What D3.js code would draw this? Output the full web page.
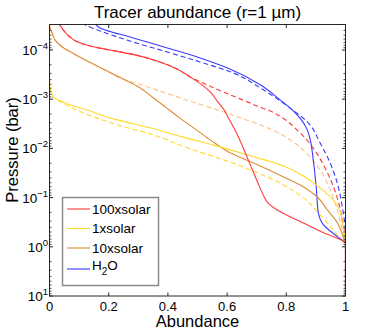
<!DOCTYPE html>
<html>
<head>
<meta charset="utf-8">
<script src="https://cdn.jsdelivr.net/npm/d3@7"></script>
<style>
  html, body { margin: 0; padding: 0; background: #fff; }
  svg { display: block; font-family: "Liberation Sans", Arial, Helvetica, sans-serif; }
</style>
</head>
<body>
<svg id="chart" width="382" height="333"></svg>
<script>
// ---------------- data ----------------
const seriesNames = ["100xsolar", "1xsolar", "10xsolar", "H2O"];
const xTickValues = [0, 0.2, 0.4, 0.6, 0.8, 1];
const xTickLabels = ["0", "0.2", "0.4", "0.6", "0.8", "1"];
const yTickExponents = [-4, -3, -2, -1, 0, 1];

// 100xsolar (red)
const solar100X = [0.029, 0.035, 0.049, 0.069, 0.096, 0.144, 0.204, 0.282, 0.373, 0.434, 0.475, 0.515, 0.546, 0.566, 0.590, 0.606, 0.630, 0.657, 0.684, 0.708, 0.725, 0.740, 0.768, 0.813, 0.870, 0.924, 1.0, 1.0];
const solar100P = [2.7e-5, 3.1e-5, 4.1e-5, 5.45e-5, 6.9e-5, 8.5e-5, 1.0e-4, 1.23e-4, 1.75e-4, 2.49e-4, 3.53e-4, 5.13e-4, 7.45e-4, 1.08e-3, 1.65e-3, 2.5e-3, 4.6e-3, 1.07e-2, 2.6e-2, 5.7e-2, 9.6e-2, 0.133, 0.176, 0.244, 0.355, 0.515, 0.86, 10];
const solar100DashX = [0.029, 0.035, 0.049, 0.069, 0.096, 0.144, 0.204, 0.282, 0.373, 0.434, 0.475, 0.526, 0.586, 0.644, 0.701, 0.752, 0.792, 0.829, 0.863, 0.897, 0.927, 0.954, 0.975, 0.989, 1.0, 1.0];
const solar100DashP = [2.7e-5, 3.1e-5, 4.1e-5, 5.45e-5, 6.9e-5, 8.5e-5, 1.0e-4, 1.23e-4, 1.75e-4, 2.49e-4, 3.53e-4, 4.9e-4, 7.1e-4, 9.85e-4, 1.37e-3, 1.81e-3, 2.5e-3, 3.82e-3, 6.1e-3, 1.11e-2, 2.25e-2, 5.0e-2, 0.116, 0.281, 0.86, 10];

// 1xsolar (yellow)
const solar1X = [0, 0, 0.002, 0.0125, 0.036, 0.06, 0.114, 0.229, 0.34, 0.452, 0.567, 0.678, 0.789, 0.867, 0.921, 0.958, 0.982, 0.992, 1.0, 1.0];
const solar1P = [2.9e-5, 3.7e-4, 5.9e-4, 9.0e-4, 1.08e-3, 1.25e-3, 1.57e-3, 2.63e-3, 3.82e-3, 5.9e-3, 9.0e-3, 1.41e-2, 2.25e-2, 3.95e-2, 6.9e-2, 0.11, 0.193, 0.408, 0.86, 10];
const solar1DashX = [0, 0, 0.002, 0.0125, 0.036, 0.114, 0.229, 0.34, 0.475, 0.586, 0.703, 0.789, 0.857, 0.914, 0.958, 0.992, 1.0, 1.0];
const solar1DashP = [2.9e-5, 3.7e-4, 5.9e-4, 9.0e-4, 1.13e-3, 1.9e-3, 3.32e-3, 5.06e-3, 1.02e-2, 1.7e-2, 3.13e-2, 5.47e-2, 0.1, 0.222, 0.448, 0.785, 0.86, 10];

// 10xsolar (orange)
const solar10X = [0, 0.002, 0.009, 0.019, 0.043, 0.077, 0.121, 0.188, 0.256, 0.3, 0.347, 0.391, 0.435, 0.482, 0.543, 0.61, 0.703, 0.789, 0.857, 0.904, 0.938, 0.972, 0.992, 1.0, 1.0];
const solar10P = [2.9e-5, 3.6e-5, 4.5e-5, 6.3e-5, 8.7e-5, 1.15e-4, 1.6e-4, 2.55e-4, 4.06e-4, 5.6e-4, 9.0e-4, 1.43e-3, 2.29e-3, 3.65e-3, 6.7e-3, 1.23e-2, 2.15e-2, 3.77e-2, 6.0e-2, 9.6e-2, 0.176, 0.323, 0.62, 0.86, 10];
const solar10DashX = [0, 0.002, 0.009, 0.019, 0.043, 0.077, 0.121, 0.188, 0.256, 0.29, 0.381, 0.482, 0.567, 0.654, 0.745, 0.813, 0.867, 0.914, 0.948, 0.972, 0.989, 1.0, 1.0];
const solar10DashP = [2.9e-5, 3.6e-5, 4.5e-5, 6.3e-5, 8.7e-5, 1.15e-4, 1.6e-4, 2.55e-4, 4.06e-4, 4.67e-4, 7.1e-4, 1.13e-3, 1.65e-3, 2.5e-3, 4.0e-3, 6.7e-3, 1.23e-2, 2.72e-2, 6.9e-2, 0.176, 0.448, 0.86, 10];

// H2O (blue)
const waterX = [0.155, 0.165, 0.283, 0.398, 0.509, 0.6, 0.712, 0.779, 0.82, 0.851, 0.871, 0.881, 0.891, 0.901, 0.908, 0.925, 0.972, 1.0, 1.0];
const waterP = [2.9e-5, 3.4e-5, 5.7e-5, 9.1e-5, 1.45e-4, 2.3e-4, 5.1e-4, 1.03e-3, 1.65e-3, 2.63e-3, 4.2e-3, 6.7e-3, 1.7e-2, 6.0e-2, 0.2, 0.355, 0.62, 0.86, 10];
const waterDashX = [0.11, 0.121, 0.171, 0.283, 0.398, 0.509, 0.621, 0.712, 0.779, 0.83, 0.871, 0.914, 0.948, 0.972, 0.989, 0.999, 1.0, 1.0];
const waterDashP = [2.8e-5, 3.1e-5, 4.1e-5, 6.9e-5, 1.1e-4, 1.75e-4, 2.93e-4, 5.9e-4, 1.08e-3, 1.81e-3, 2.89e-3, 7.7e-3, 1.96e-2, 5.0e-2, 0.153, 0.448, 0.86, 10];

// ---------------- layout ----------------
const plotL = 49.5, plotR = 345.5, plotT = 24.5, plotB = 296;
const svg = d3.select("#chart");

const x = d3.scaleLinear().domain([0, 1]).range([plotL, plotR]);
const y = d3.scaleLog().domain([Math.pow(10, -4.518), 10]).range([plotT, plotB]);

const zip = (xs, ps) => xs.map((v, i) => ({ a: v, p: ps[i] }));

const lineSpecs = [
  { data: zip(solar10DashX, solar10DashP), color: "#fdc28a", dash: "5,3" },
  { data: zip(solar1DashX, solar1DashP), color: "#ffd92a", dash: "5,3" },
  { data: zip(waterDashX, waterDashP), color: "#3a3aff", dash: "5,3" },
  { data: zip(solar100DashX, solar100DashP), color: "#ff3a3a", dash: "5,3" },
  { data: zip(waterX, waterP), color: "#3a3aff", dash: null },
  { data: zip(solar10X, solar10P), color: "#dd8c38", dash: null },
  { data: zip(solar1X, solar1P), color: "#ffd92a", dash: null },
  { data: zip(solar100X, solar100P), color: "#ff3a3a", dash: null }
];

svg.append("defs").append("clipPath").attr("id", "plotclip")
  .append("rect").attr("x", plotL).attr("y", plotT).attr("width", plotR - plotL).attr("height", plotB - plotT);

const lineGen = d3.line().x(d => x(d.a)).y(d => y(d.p)).curve(d3.curveMonotoneY);

const g = svg.append("g").attr("clip-path", "url(#plotclip)");
lineSpecs.forEach(s => {
  g.append("path").datum(s.data)
    .attr("d", lineGen)
    .attr("fill", "none")
    .attr("stroke", s.color)
    .attr("stroke-width", 1.1)
    .attr("stroke-dasharray", s.dash);
});

// ---------------- axes (MATLAB box, inward ticks) ----------------
const axisColor = "#262626";
const ax = svg.append("g");
ax.append("rect").attr("x", plotL).attr("y", plotT).attr("width", plotR - plotL).attr("height", plotB - plotT)
  .attr("fill", "none").attr("stroke", axisColor).attr("stroke-width", 1);

xTickValues.forEach((v, i) => {
  const px = x(v);
  ax.append("line").attr("x1", px).attr("x2", px).attr("y1", plotB).attr("y2", plotB - 3.5).attr("stroke", axisColor);
  ax.append("line").attr("x1", px).attr("x2", px).attr("y1", plotT).attr("y2", plotT + 3.5).attr("stroke", axisColor);
  ax.append("text").attr("x", px).attr("y", plotB + 14.5)
    .attr("text-anchor", "middle").attr("font-size", 13).attr("fill", "#000")
    .text(xTickLabels[i]);
});

yTickExponents.forEach(e => {
  const py = y(Math.pow(10, e));
  ax.append("line").attr("x1", plotL).attr("x2", plotL + 3.5).attr("y1", py).attr("y2", py).attr("stroke", axisColor);
  ax.append("line").attr("x1", plotR).attr("x2", plotR - 3.5).attr("y1", py).attr("y2", py).attr("stroke", axisColor);
  const t = ax.append("text").attr("x", plotL - 1.5).attr("y", py + 5)
    .attr("text-anchor", "end").attr("font-size", 13.5).attr("fill", "#000");
  t.append("tspan").text("10");
  t.append("tspan").attr("dy", -6).attr("font-size", 9.5).text(e < 0 ? "\u2212" + Math.abs(e) : String(e));
});
for (let e = -5; e < 1; e++) {
  for (let m = 2; m <= 9; m++) {
    const v = m * Math.pow(10, e);
    if (v < y.domain()[0] || v > 10) continue;
    const py = y(v);
    ax.append("line").attr("x1", plotL).attr("x2", plotL + 2).attr("y1", py).attr("y2", py).attr("stroke", axisColor).attr("stroke-width", 0.8);
    ax.append("line").attr("x1", plotR).attr("x2", plotR - 2).attr("y1", py).attr("y2", py).attr("stroke", axisColor).attr("stroke-width", 0.8);
  }
}

// ---------------- labels ----------------
svg.append("text").attr("x", (plotL + plotR) / 2).attr("y", 18)
  .attr("text-anchor", "middle").attr("font-size", 17).attr("fill", "#000")
  .text("Tracer abundance (r=1 \u00b5m)");
svg.append("text").attr("x", (plotL + plotR) / 2).attr("y", 327)
  .attr("text-anchor", "middle").attr("font-size", 16.5).attr("fill", "#000")
  .text("Abundance");
svg.append("text").attr("transform", "translate(18,150) rotate(-90)")
  .attr("text-anchor", "middle").attr("font-size", 16.5).attr("fill", "#000")
  .text("Pressure (bar)");

// ---------------- legend ----------------
const legend = svg.append("g");
legend.append("rect").attr("x", 62.5).attr("y", 197.5).attr("width", 96).attr("height", 88)
  .attr("fill", "#fff").attr("stroke", "#8a8a8a").attr("stroke-width", 1.5);
const legendColors = ["#ff3a3a", "#ffd92a", "#dd8c38", "#3a3aff"];
const legendY = [209, 228.5, 248, 269];
seriesNames.forEach((n, i) => {
  const ly = legendY[i];
  legend.append("line").attr("x1", 67).attr("x2", 90).attr("y1", ly).attr("y2", ly)
    .attr("stroke", legendColors[i]).attr("stroke-width", 1.1);
  const t = legend.append("text").attr("x", 92).attr("y", ly + 4.5)
    .attr("font-size", 13.5).attr("fill", "#000");
  if (n === "H2O") {
    t.attr("y", ly + 1);
    t.append("tspan").text("H");
    t.append("tspan").attr("dy", 5).attr("font-size", 10).text("2");
    t.append("tspan").attr("dy", -5).text("O");
  } else {
    t.text(n);
  }
});
</script>
</body>
</html>
